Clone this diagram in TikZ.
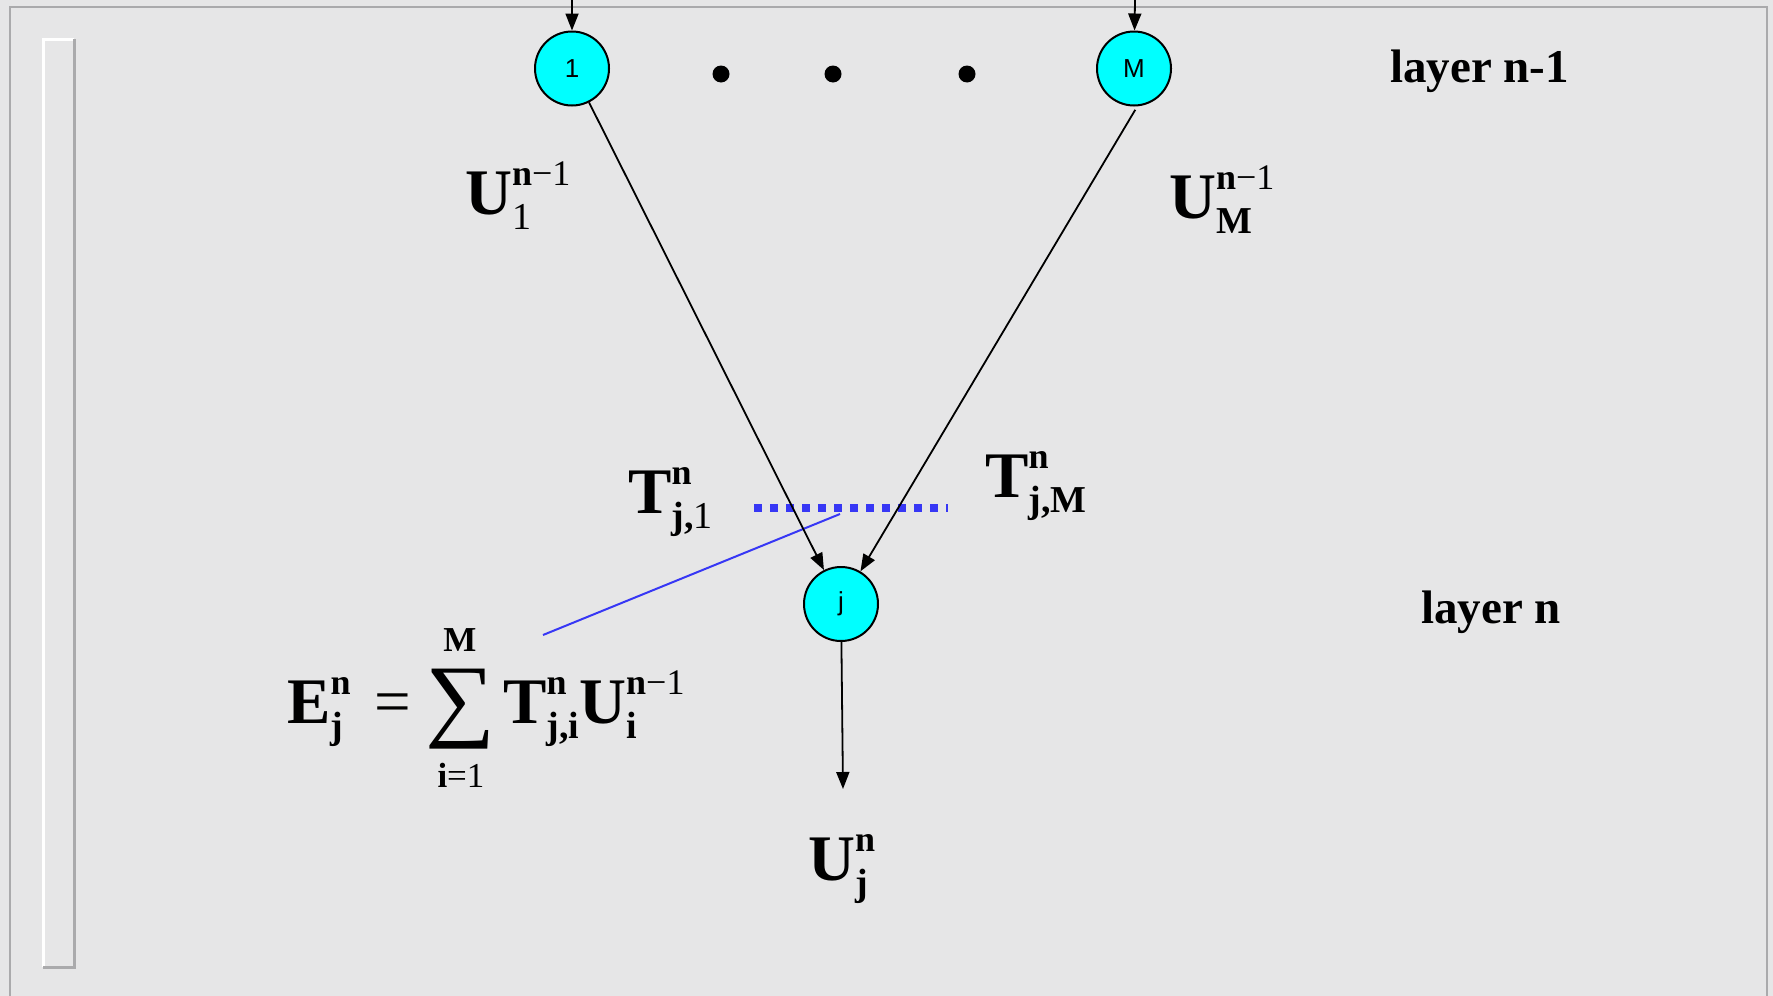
\documentclass[tikz,border=0pt]{standalone}
\usepackage{fontspec}
\setmainfont{Liberation Serif}
\newfontfamily\sansf{Liberation Sans}
\usepackage{graphicx}
\usetikzlibrary{arrows.meta}
\definecolor{marble}{RGB}{230,230,231}
\definecolor{framegray}{RGB}{170,170,172}
\definecolor{nodecyan}{RGB}{0,255,255}
\definecolor{lineblue}{RGB}{55,55,245}
\newcommand\SupSub[2]{%
  \setbox0=\hbox{\fontsize{36pt}{36pt}\selectfont #1}%
  \setbox2=\hbox{\fontsize{38pt}{38pt}\selectfont #2}%
  \dimen0=\wd0 \ifdim\wd2>\dimen0 \dimen0=\wd2\fi
  \hbox to \dimen0{\rlap{\raise29pt\box0}\lower15pt\box2\hss}}
\begin{document}
\begin{tikzpicture}[x=1pt,y=-1pt,
  neuron/.style={circle,draw=black,line width=2pt,fill=nodecyan,minimum size=74pt,inner sep=0pt,font=\sansf\fontsize{26pt}{26pt}\selectfont},
  conn/.style={draw=black,line width=1.8pt,-{Triangle[length=17pt,width=13pt]}},
  biglabel/.style={anchor=base west,inner sep=0pt,font=\fontsize{65pt}{65pt}\selectfont},
  layerlabel/.style={anchor=base west,inner sep=0pt,font=\bfseries\fontsize{47pt}{47pt}\selectfont},
  dotmark/.style={circle,fill=black,minimum size=17pt,inner sep=0pt},
  limlabel/.style={inner sep=0pt,font=\fontsize{35pt}{35pt}\selectfont},
  blueline/.style={draw=lineblue,line width=2pt},
  bluedots/.style={draw=lineblue,line width=8pt,dash pattern=on 7.5pt off 8.5pt}]
\useasboundingbox (0,0) rectangle (1773,996);
\fill[marble] (0,0) rectangle (1773,996);
% frame
\draw[framegray,line width=2.5pt] (10,996) -- (10,7) -- (1767,7) -- (1767,996);
\draw[white,line width=3pt] (43,967) -- (43,39) -- (74,39);
\draw[framegray,line width=3pt] (74,39) -- (74,967) -- (43,967);
% neurons
\node[neuron] (n1) at (572,68.5) {1};
\node[neuron] (nM) at (1134,68.5) {M};
\node[neuron] (nj) at (841,604) {j};
\node[dotmark] (d1) at (721,74) {};
\node[dotmark] (d2) at (833,74) {};
\node[dotmark] (d3) at (967,74) {};
% helper coordinates
\coordinate (t1) at (572,0);
\coordinate (tM) at (1135,0);
\coordinate (out) at (843,789);
\coordinate (dl) at (754,508);
\coordinate (dr) at (948,508);
\coordinate (bl1) at (840,514);
\coordinate (bl2) at (543,635);
% blue marks
\draw[bluedots] (dl) -- (dr);
\draw[blueline] (bl1) -- (bl2);
% connectors
\draw[conn] (t1) -- (n1);
\draw[conn] (tM) -- (nM);
\draw[conn] (n1) -- (nj);
\draw[conn,shorten <=4pt] (nM.-85) -- (nj);
\draw[conn] (nj) -- (out);
% labels
\node[biglabel] (u1) at (465,214) {\textbf{U}\SupSub{\textbf{n}−1}{1}};
\node[biglabel] (uM) at (1169,218) {\textbf{U}\SupSub{\textbf{n}−1}{\textbf{M}}};
\node[biglabel] (tj1) at (628,513) {\textbf{T}\SupSub{\textbf{n}}{\textbf{j,}1}};
\node[biglabel] (tjM) at (985,497) {\textbf{T}\SupSub{\textbf{n}}{\textbf{j,M}}};
\node[biglabel] (uj) at (808,880) {\textbf{U}\SupSub{\textbf{n}}{\textbf{j}}};
\node[biglabel] (ej) at (287,723) {\textbf{E}\SupSub{\textbf{n}}{\textbf{j}}\hspace{24pt}=};
\node[inner sep=0pt] (sig) at (461,709) {\resizebox*{70pt}{80pt}{∑}};
\node[limlabel] (sigtop) at (460,640) {\textbf{M}};
\node[limlabel] (sigbot) at (461,775) {\textbf{i}=1};
\node[biglabel] (tu) at (503,723) {\textbf{T}\SupSub{\textbf{n}}{\textbf{j,i}}\textbf{U}\SupSub{\textbf{n}−1}{\textbf{i}}};
\node[layerlabel] (l1) at (1390,82) {layer n-1};
\node[layerlabel] (l2) at (1421,623) {layer n};
\end{tikzpicture}
\end{document}
